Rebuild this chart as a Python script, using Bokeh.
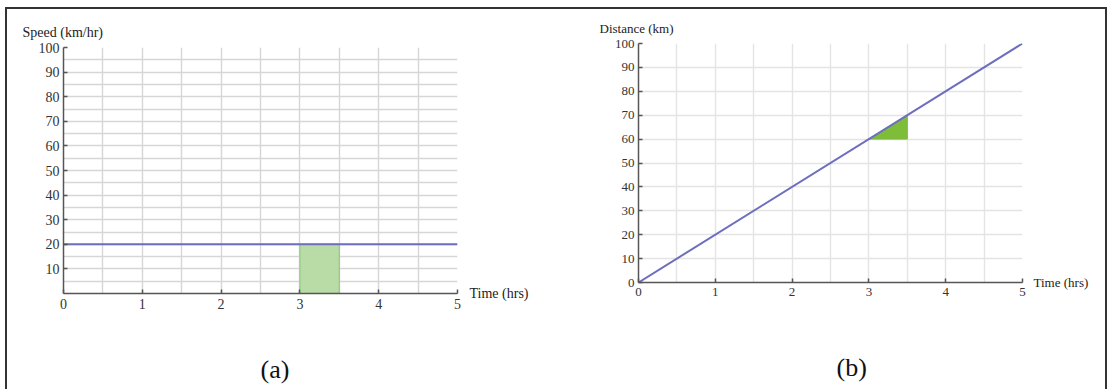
from bokeh.plotting import figure
from bokeh.layouts import row, column
from bokeh.models import FixedTicker, LinearAxis, Title
from bokeh.embed import file_html
from bokeh.resources import INLINE

# ---- data ----
hours = [0, 1, 2, 3, 4, 5]
speed_ticks = [10, 20, 30, 40, 50, 60, 70, 80, 90, 100]
distance_ticks = [0, 10, 20, 30, 40, 50, 60, 70, 80, 90, 100]

speed_time = [0, 5]
speed_kmh = [20, 20]
shade_start = 3.0
shade_end = 3.5

dist_time = [0, 5]
dist_km = [0, 100]
tri_time = [3.0, 3.5, 3.5]
tri_km = [60, 60, 70]

# ---- styling ----
FONT = "Liberation Serif"
AXIS_COLOR = "#555555"
LINE_COLOR = "#6e6ebf"
TEXT_COLOR = "#222222"


def style_axes(p, yticks, xgrid, ygrid, grid_color, tick_size):
    p.xaxis.ticker = FixedTicker(ticks=hours)
    p.yaxis.ticker = FixedTicker(ticks=yticks)
    p.xgrid.ticker = FixedTicker(ticks=xgrid)
    p.ygrid.ticker = FixedTicker(ticks=ygrid)
    for g in (p.xgrid, p.ygrid):
        g.grid_line_color = grid_color
        g.grid_line_width = 1.4
    for ax in (p.xaxis, p.yaxis):
        ax.axis_line_color = AXIS_COLOR
        ax.axis_line_width = 1.5
        ax.major_tick_line_color = AXIS_COLOR
        ax.major_tick_line_width = 1.5
        ax.major_tick_in = 4
        ax.major_tick_out = 0
        ax.minor_tick_line_color = None
        ax.major_label_text_font = FONT
        ax.major_label_text_font_size = tick_size
        ax.major_label_text_color = "#333333"
    p.xaxis.major_label_standoff = 5
    p.yaxis.major_label_standoff = 4
    p.outline_line_color = None
    p.background_fill_color = "white"
    p.border_fill_color = "white"


def time_label(p, size, standoff):
    # horizontal axis title sitting to the right of the time axis
    ax = LinearAxis(ticker=FixedTicker(ticks=[]),
                    axis_label="Time (hrs)",
                    axis_label_orientation="horizontal",
                    axis_label_standoff=standoff,
                    axis_label_text_font=FONT,
                    axis_label_text_font_style="normal",
                    axis_label_text_font_size=size,
                    axis_label_text_color=TEXT_COLOR,
                    axis_line_color=None,
                    major_tick_line_color=None,
                    minor_tick_line_color=None,
                    major_label_text_font_size="0px",
                    major_label_text_color=None)
    if "axis_label_align" in LinearAxis.properties():
        ax.axis_label_align = "start"
    p.add_layout(ax, "right")


def top_title(p, text, size, offset, standoff):
    p.add_layout(Title(text=text, align="left", offset=offset,
                       standoff=standoff, text_font=FONT,
                       text_font_style="normal", text_font_size=size,
                       text_color=TEXT_COLOR), "above")


def caption(p, text, offset, gap):
    # blank band below the time axis (a white tick on white reserves the
    # height), followed by the panel caption
    spacer = LinearAxis(ticker=FixedTicker(ticks=[0.25]),
                        major_tick_in=0, major_tick_out=gap,
                        axis_line_color=None,
                        major_tick_line_color="white",
                        major_tick_line_width=1,
                        minor_tick_line_color=None,
                        major_label_text_font_size="0px",
                        major_label_text_color=None)
    p.add_layout(spacer, "below")
    p.add_layout(Title(text=text, align="left", offset=offset,
                       standoff=4, vertical_align="top", text_font=FONT,
                       text_font_style="normal", text_font_size="26px",
                       text_color="#111111"), "below")


# ---- (a) speed vs time ----
p1 = figure(width=549, height=380, x_range=(0, 5), y_range=(0, 100),
            min_border_left=56, min_border_right=99,
            min_border_top=38, min_border_bottom=96,
            output_backend="svg", toolbar_location=None)
style_axes(p1, speed_ticks, [i * 0.5 for i in range(1, 11)],
           [i * 5 for i in range(1, 21)], "#d6d6d6", "14px")
p1.quad(left=shade_start, right=shade_end, bottom=0, top=speed_kmh[0],
        fill_color="#b9dba6", line_color="#8fcc80", line_width=1.2)
p1.line(speed_time, speed_kmh, line_color=LINE_COLOR, line_width=2)
time_label(p1, "14px", 12)
top_title(p1, "Speed (km/hr)", "14px", -41, 15)
caption(p1, "(a)", 197, 41)

# ---- (b) distance vs time ----
p2 = figure(width=549, height=380, x_range=(0, 5), y_range=(0, 100),
            min_border_left=82, min_border_right=83,
            min_border_top=34, min_border_bottom=107,
            output_backend="svg", toolbar_location=None)
style_axes(p2, distance_ticks, [i * 0.5 for i in range(1, 11)],
           distance_ticks[1:], "#e4e4e4", "13px")
p2.patch(tri_time, tri_km, fill_color="#7dbd3a", line_color="#7dbd3a")
p2.line(dist_time, dist_km, line_color=LINE_COLOR, line_width=2)
time_label(p2, "13px", 11)
top_title(p2, "Distance (km)", "13px", -39, 15)
caption(p2, "(b)", 198, 52)

layout = row(column(p1), column(p2), margin=(7, 0, 0, 5),
             styles={"border-top": "2px solid #333333",
                     "border-left": "2px solid #333333",
                     "border-right": "2px solid #333333"})

open("out.html", "w").write(file_html(layout, INLINE))
